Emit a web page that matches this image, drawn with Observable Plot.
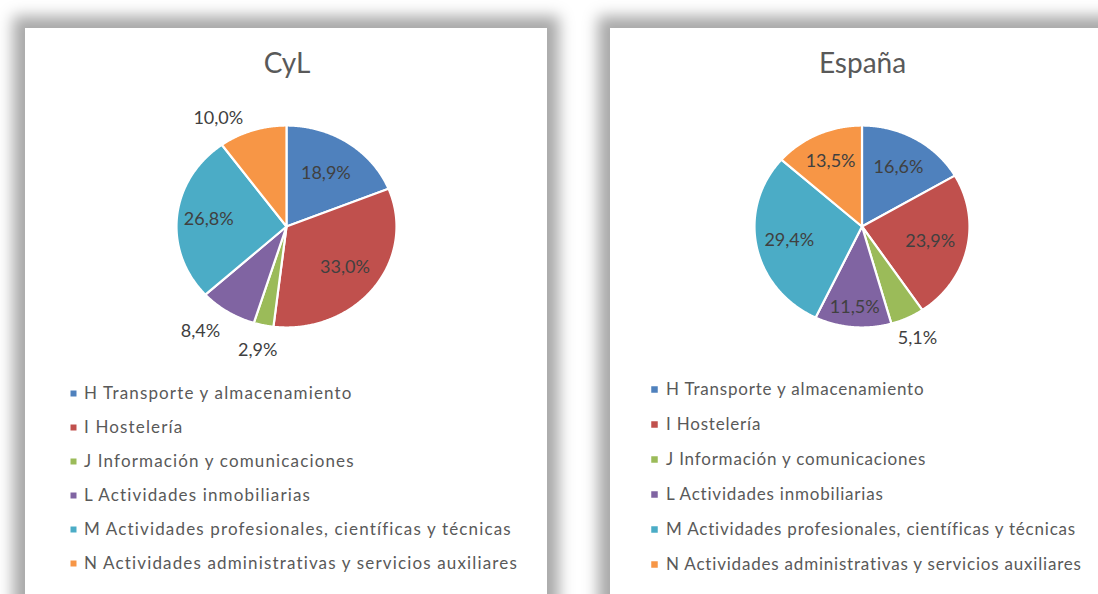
<!DOCTYPE html>
<html>
<head>
<meta charset="utf-8">
<script src="https://cdn.jsdelivr.net/npm/d3@7"></script>
<script src="https://cdn.jsdelivr.net/npm/@observablehq/plot@0.6"></script>
<style>
  html, body { margin: 0; padding: 0; background: #ffffff; }
  body { position: relative; width: 1098px; height: 594px; overflow: hidden; font-family: Lato, "Open Sans", sans-serif; }
  .panel { position: absolute; top: 28px; height: 620px; background: #ffffff; box-shadow: 0 0 14px 12px rgba(0,0,0,0.34); }
  .title { position: absolute; width: 300px; text-align: center; font-size: 28px; line-height: 28px; color: #595959; }
  .abs { position: absolute; }
  .lg0 text { letter-spacing: 1.15px; }
  .lg1 text { letter-spacing: 0.8px; }
</style>
</head>
<body>
<script>
// ---- data ----
const categories = [
  "H Transporte y almacenamiento",
  "I Hostelería",
  "J Información y comunicaciones",
  "L Actividades inmobiliarias",
  "M Actividades profesionales, científicas y técnicas",
  "N Actividades administrativas y servicios auxiliares"
];
const cylValues = [18.9, 33.0, 2.9, 8.4, 26.8, 10.0];
const espanaValues = [16.6, 23.9, 5.1, 11.5, 29.4, 13.5];
const sliceColors = ["#4F81BD", "#C0504D", "#9BBB59", "#8064A2", "#4BACC6", "#F79646"];
const chartTitles = ["CyL", "España"];

// ---- layout (positions / styles) ----
const layouts = [
  { panelLeft: 25, panelWidth: 522, cx: 286, cy: 226, rx: 110, ry: 101, titleX: 287,
    labelR: [0.64, 0.67, 1.25, 1.30, 0.71, 1.24], labelDA: [0, 0, 0, 4.6, 0, -12],
    legendX: 73, legendY0: 392, legendY1: 564, dx: 10.5, sw: 6, legendFont: 17 },
  { panelLeft: 610, panelWidth: 540, cx: 861, cy: 226, rx: 107.5, ry: 101, titleX: 862.5,
    labelR: [0.68, 0.65, 1.22, 0.80, 0.69, 0.71], labelDA: [0, 0, 0, 0, 0, 0],
    legendX: 653.7, legendY0: 387, legendY1: 566, dx: 11.5, sw: 6.5, legendFont: 17 }
];
const seriesValues = [cylValues, espanaValues];

const fmt = v => v.toFixed(1).replace(".", ",") + "%";

seriesValues.forEach((values, k) => {
  const L = layouts[k];
  const panel = document.createElement("div");
  panel.className = "panel";
  panel.style.left = L.panelLeft + "px";
  panel.style.width = L.panelWidth + "px";
  document.body.appendChild(panel);
});

seriesValues.forEach((values, k) => {
  const L = layouts[k];

  // title
  const t = document.createElement("div");
  t.className = "title";
  t.textContent = chartTitles[k];
  t.style.left = (L.titleX - 150) + "px";
  t.style.top = "48px";
  document.body.appendChild(t);

  // pie geometry from data
  const arcs = d3.pie().sort(null).value(d => d)(values);
  const points = [];
  const labels = [];
  arcs.forEach((a, i) => {
    const key = categories[i];
    points.push({key, x: 0, y: 0});
    const n = Math.max(2, Math.ceil((a.endAngle - a.startAngle) / (Math.PI / 360)));
    for (let j = 0; j <= n; j++) {
      const ang = a.startAngle + (a.endAngle - a.startAngle) * j / n;
      points.push({key, x: Math.sin(ang), y: Math.cos(ang)});
    }
    const mid = (a.startAngle + a.endAngle) / 2 + L.labelDA[i] * Math.PI / 180;
    labels.push({x: L.labelR[i] * Math.sin(mid), y: L.labelR[i] * Math.cos(mid), text: fmt(values[i])});
  });

  const m = 60;
  const pie = Plot.plot({
    width: 2 * L.rx + 2 * m,
    height: 2 * L.ry + 2 * m,
    margin: m,
    style: {fontFamily: "Lato", background: "transparent", overflow: "visible"},
    x: {domain: [-1, 1], axis: null},
    y: {domain: [-1, 1], axis: null},
    color: {domain: categories, range: sliceColors},
    marks: [
      Plot.line(points, {x: "x", y: "y", z: "key", fill: "key", stroke: "white", strokeWidth: 2.2, curve: "linear-closed"}),
      Plot.text(labels, {x: "x", y: "y", text: "text", fontSize: 18, fill: "#404040"})
    ]
  });
  pie.classList.add("abs");
  pie.style.left = (L.cx - L.rx - m) + "px";
  pie.style.top = (L.cy - L.ry - m) + "px";
  document.body.appendChild(pie);

  // legend
  const pad = 10;
  const legend = Plot.plot({
    width: 480,
    height: (L.legendY1 - L.legendY0) + 2 * pad,
    marginTop: pad, marginBottom: pad, marginLeft: pad, marginRight: 0,
    style: {fontFamily: "Lato", background: "transparent", overflow: "visible"},
    x: {domain: [0, 1], axis: null},
    y: {type: "point", domain: categories, padding: 0, axis: null},
    color: {domain: categories, range: sliceColors},
    marks: [
      Plot.dot(categories, {y: d => d, fill: d => d, symbol: "square", r: L.sw / Math.sqrt(Math.PI), frameAnchor: "left"}),
      Plot.text(categories, {y: d => d, text: d => d, frameAnchor: "left", textAnchor: "start", dx: L.dx, fontSize: L.legendFont, fill: "#595959"})
    ]
  });
  legend.classList.add("abs", "lg" + k);
  legend.style.left = (L.legendX - pad) + "px";
  legend.style.top = (L.legendY0 - pad) + "px";
  document.body.appendChild(legend);
});
</script>
</body>
</html>
